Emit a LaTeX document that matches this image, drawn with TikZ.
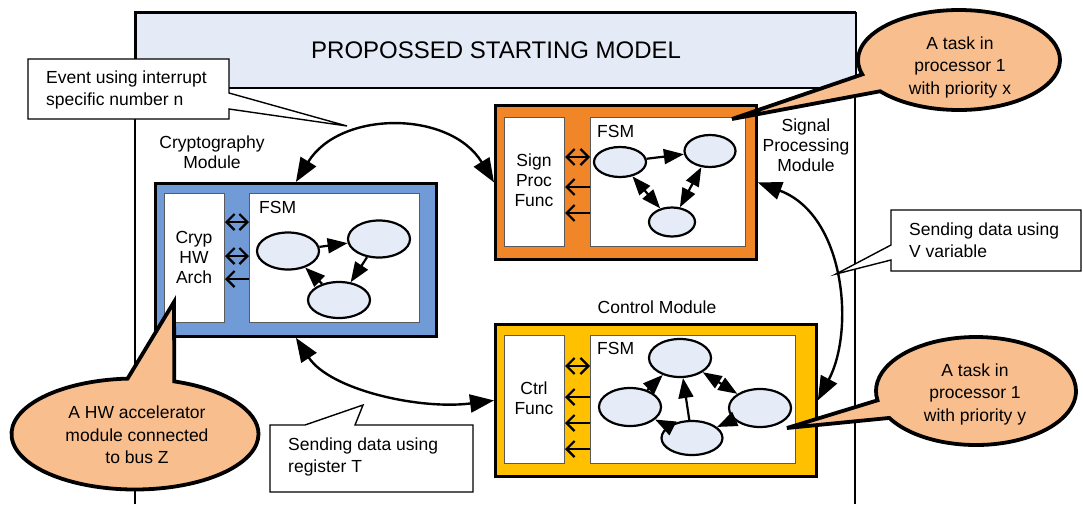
\documentclass[tikz,border=0pt]{standalone}
\usepackage{fontspec}
\setmainfont{Liberation Sans}
\usetikzlibrary{arrows.meta,shapes.geometric,shapes.callouts,calc}
\definecolor{titlefill}{HTML}{E4EAF6}
\definecolor{blueM}{HTML}{709BD6}
\definecolor{orangeM}{HTML}{F08628}
\definecolor{yellowM}{HTML}{FFC000}
\definecolor{stfill}{HTML}{E6ECF7}
\definecolor{callfill}{HTML}{F8BE8E}
\definecolor{innerline}{HTML}{5A5A5A}
\tikzset{
  txt/.style={font=\fontsize{17.5pt}{20pt}\selectfont, align=center, inner sep=0pt},
  ctxt/.style={font=\fontsize{17.5pt}{22.5pt}\selectfont, align=center, inner sep=0pt},
  ltxt/.style={font=\fontsize{17.5pt}{22pt}\selectfont, align=left, inner sep=0pt, anchor=west},
  modbox/.style={draw, line width=2.8pt, anchor=north west, inner sep=0pt},
  inbox/.style={draw=innerline, line width=1pt, fill=white, anchor=north west, inner sep=0pt},
  st/.style={ellipse, draw, line width=2.2pt, fill=stfill, inner sep=0pt},
  fa/.style={line width=2.2pt, -{Triangle[length=20pt,width=15pt]}},
  fab/.style={line width=2.2pt, {Triangle[length=19pt,width=14pt]}-{Triangle[length=19pt,width=14pt]}},
  barb/.style={line width=2.2pt, -{Straight Barb[length=8pt,width=16pt]}},
  barbb/.style={line width=2.2pt, {Straight Barb[length=8pt,width=16pt]}-{Straight Barb[length=8pt,width=16pt]}},
  big/.style={line width=2.4pt, {Triangle[length=24pt,width=18pt]}-{Triangle[length=24pt,width=18pt]}},
  rcall/.style={draw, line width=1.4pt, fill=white},
  ecall/.style={ellipse callout, draw, line width=3.8pt, fill=callfill, inner sep=0pt},
}
\begin{document}
\begin{tikzpicture}[x=1pt,y=-1pt]
\useasboundingbox (0,0) rectangle (1083,504);

% frame and title
\draw[line width=2.2pt] (135,504) -- (135,12) -- (855,12) -- (855,504);
\node[draw, line width=2.2pt, fill=titlefill, anchor=north west, inner sep=0pt,
      minimum width=720pt, minimum height=75pt,
      font=\fontsize{24pt}{28pt}\selectfont] (title) at (135,12) {PROPOSSED STARTING MODEL};

% ---------- Cryptography module ----------
\node[txt] (crLab) at (212,152) {Cryptography\\Module};
\node[modbox, fill=blueM, minimum width=281pt, minimum height=153pt] (crM) at (154,182) {};
\node[inbox, minimum width=60pt, minimum height=129pt] (crL) at (164,193) {};
\node[inbox, minimum width=170pt, minimum height=129pt] (crF) at (249,193) {};
\node[txt] (crT) at (194,257) {Cryp\\HW\\Arch};
\node[txt, anchor=west] (crFL) at (259,207) {FSM};
\node[st, minimum width=62pt, minimum height=37pt] (e1) at (288,251) {};
\node[st, minimum width=62pt, minimum height=37pt] (e2) at (379,239) {};
\node[st, minimum width=62pt, minimum height=36pt] (e3) at (339,300) {};
\draw[fa] (e1) -- (e2);
\draw[fa] (e2) -- (e3);
\draw[fa] (e3) -- (e1);
\draw[barbb] (crL.east |- 0,222) -- (crF.west |- 0,222);
\draw[barbb] (crL.east |- 0,256) -- (crF.west |- 0,256);
\draw[barb] (crF.west |- 0,279) -- (crL.east |- 0,279);

% ---------- Signal processing module ----------
\node[txt] (sgLab) at (806,145) {Signal\\Processing\\Module};
\node[modbox, fill=orangeM, minimum width=261pt, minimum height=154pt] (sgM) at (494,104) {};
\node[inbox, minimum width=60pt, minimum height=129pt] (sgL) at (504,117) {};
\node[inbox, minimum width=155pt, minimum height=129pt] (sgF) at (590,117) {};
\node[txt] (sgT) at (534,180) {Sign\\Proc\\Func};
\node[txt, anchor=west] (sgFL) at (597,131) {FSM};
\node[st, minimum width=52pt, minimum height=30pt] (a1) at (620,162) {};
\node[st, minimum width=51pt, minimum height=32pt] (a2) at (710,151) {};
\node[st, minimum width=46pt, minimum height=29pt] (a3) at (672,222) {};
\draw[fa] (a1) -- (a2);
\draw[fab] (a1) -- (a3);
\draw[fab] (a3) -- (a2);
\draw[barbb] (sgL.east |- 0,157) -- (sgF.west |- 0,157);
\draw[barb] (sgF.west |- 0,187) -- (sgL.east |- 0,187);
\draw[barb] (sgF.west |- 0,213) -- (sgL.east |- 0,213);

% ---------- Control module ----------
\node[txt] (ctLab) at (657,307) {Control Module};
\node[modbox, fill=yellowM, minimum width=321pt, minimum height=152pt] (ctM) at (494,323) {};
\node[inbox, minimum width=60pt, minimum height=128pt] (ctL) at (504,335) {};
\node[inbox, minimum width=205pt, minimum height=128pt] (ctF) at (590,335) {};
\node[txt] (ctT) at (534,398) {Ctrl\\Func};
\node[txt, anchor=west] (ctFL) at (597,348) {FSM};
\node[st, minimum width=62pt, minimum height=38pt] (c1) at (680,358) {};
\node[st, minimum width=62pt, minimum height=38pt] (c2) at (630,407) {};
\node[st, minimum width=62pt, minimum height=38pt] (c3) at (760,408) {};
\node[st, minimum width=61pt, minimum height=34pt] (c4) at (692,438) {};
\draw[fa] (c2) -- (c1);
\draw[fab] (c1) -- (c3);
\draw[fa] (c4) -- (c1);
\draw[fa] (c4) -- (c2);
\draw[fa] (c3) -- (c4);
\draw[barbb] (ctL.east |- 0,366) -- (ctF.west |- 0,366);
\draw[barb] (ctF.west |- 0,397) -- (ctL.east |- 0,397);
\draw[barb] (ctF.west |- 0,423) -- (ctL.east |- 0,423);
\draw[barb] (ctF.west |- 0,449) -- (ctL.east |- 0,449);

% ---------- curved connectors ----------
\draw[big] (crM.north) .. controls (340,110) and (450,110) .. (sgM.west);
\draw[big] (crM.south) .. controls (330,390) and (420,410) .. (ctM.west);
\draw[big] (sgM.east) .. controls (845,215) and (855,330) .. (ctM.east);

% ---------- rectangular callouts ----------
\draw[rcall] (28,59) -- (229,59) -- (229,93) -- (347,126) coordinate (evTip) -- (229,109) -- (229,119) -- (28,119) -- cycle;
\node[ltxt] (evT) at (46,90) {Event using interrupt\\specific number n};

\draw[rcall] (270,425) -- (305,425) -- (363,405) coordinate (rgTip) -- (355,425) -- (473,425) -- (473,492) -- (270,492) -- cycle;
\node[ltxt] (rgT) at (288,457) {Sending data using\\register T};

\draw[rcall] (891,210) -- (1081,210) -- (1081,271) -- (891,271) -- (891,260) -- (836,274) coordinate (vvTip) -- (891,245) -- cycle;
\node[ltxt] (vvT) at (909,240) {Sending data using\\V variable};

% ---------- elliptical callouts ----------
\node[ecall, minimum width=202pt, minimum height=100pt,
      callout absolute pointer={(732,119)}, callout pointer arc=22] (cx) at (959,60) {};
\node[ctxt] (cxT) at (960,67) {A task in\\processor 1\\with priority x};

\node[ecall, minimum width=200pt, minimum height=108pt,
      callout absolute pointer={(787,428)}, callout pointer arc=20] (cy) at (976,391) {};
\node[ctxt] (cyT) at (975,394) {A task in\\processor 1\\with priority y};

\node[ecall, minimum width=247pt, minimum height=111pt,
      callout absolute pointer={(174,302)}, callout pointer arc=22] (hw) at (135,434) {};
\node[ctxt] (hwT) at (137,435) {A HW accelerator\\module connected\\to bus Z};
\end{tikzpicture}
\end{document}
